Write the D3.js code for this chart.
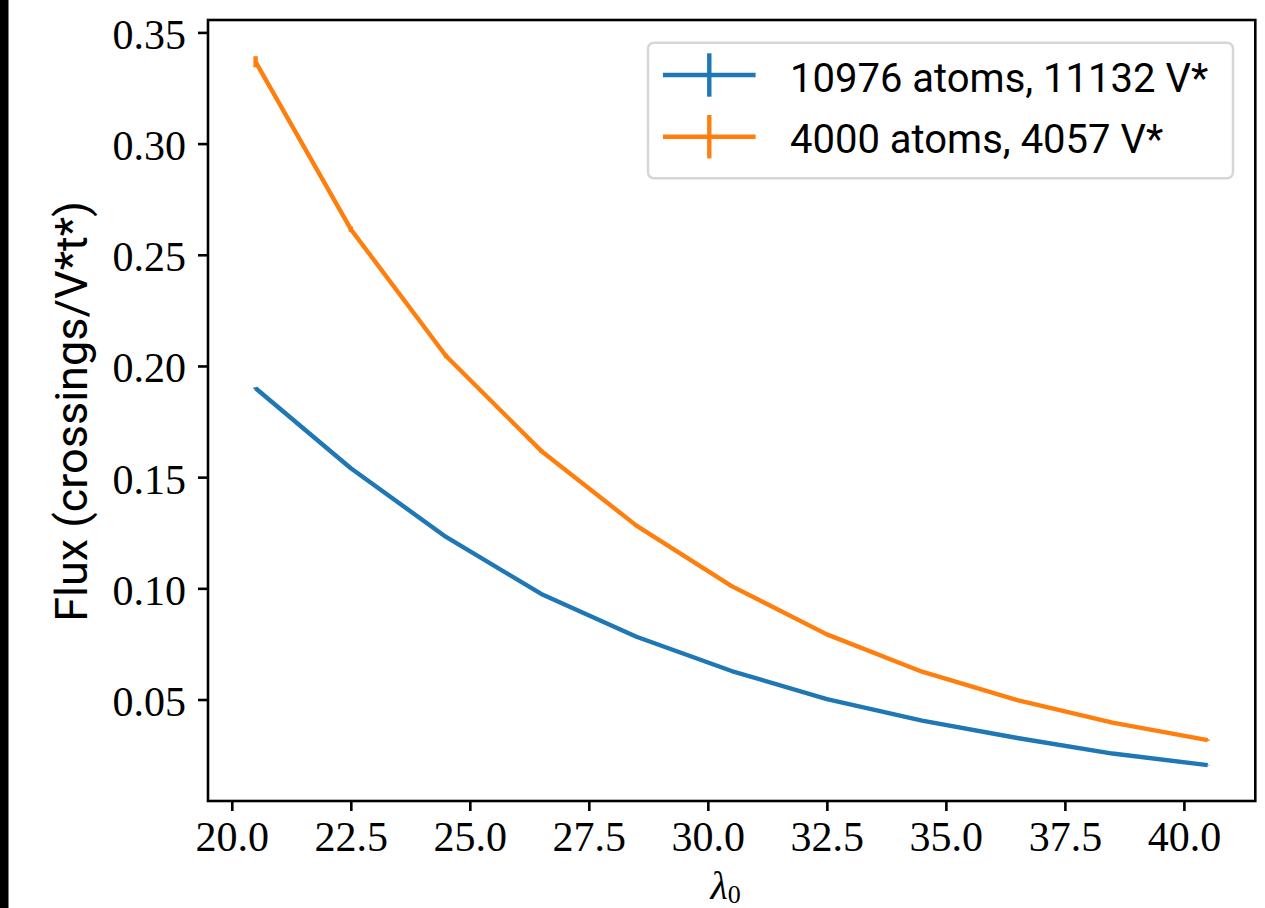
<!DOCTYPE html>
<html>
<head>
<meta charset="utf-8">
<script src="https://cdn.jsdelivr.net/npm/d3@7"></script>
<style>
  html, body { margin: 0; padding: 0; background: #fff; }
  svg { display: block; }
</style>
</head>
<body>
<div id="chart"></div>
<script>
// Flux vs lambda_0, two system sizes with error bars

const lambdas = [20.5, 22.5, 24.5, 26.5, 28.5, 30.5, 32.5, 34.5, 36.5, 38.5, 40.5];

const fluxLarge = [0.190, 0.154, 0.1231, 0.0975, 0.0782, 0.0628, 0.0502, 0.0405, 0.0327, 0.0257, 0.0205];
const errLarge  = [0.0004, 0.0003, 0.0003, 0.0002, 0.0002, 0.0002, 0.0002, 0.0001, 0.0001, 0.0001, 0.0001];

const fluxSmall = [0.3368, 0.2615, 0.2045, 0.1618, 0.1282, 0.1010, 0.0793, 0.0625, 0.0497, 0.0396, 0.0317];
const errSmall  = [0.0025, 0.0012, 0.0010, 0.0008, 0.0007, 0.0006, 0.0005, 0.0004, 0.0004, 0.0003, 0.0003];

const seriesNames = ["10976 atoms, 11132 V*", "4000 atoms, 4057 V*"];
const xTicks = [20.0, 22.5, 25.0, 27.5, 30.0, 32.5, 35.0, 37.5, 40.0];
const yTicks = [0.05, 0.10, 0.15, 0.20, 0.25, 0.30, 0.35];

const W = 1265, H = 908;
const margin = { top: 20, right: 9.7, bottom: 107, left: 208 };
const width = W - margin.left - margin.right;
const height = H - margin.top - margin.bottom;

const svg = d3.select("#chart")
  .append("svg")
  .attr("width", W)
  .attr("height", H);

// black strip on the left edge
svg.append("rect")
  .attr("x", 0).attr("y", 0)
  .attr("width", 8.5).attr("height", H)
  .attr("fill", "#000");

const g = svg.append("g")
  .attr("transform", `translate(${margin.left},${margin.top})`);

const x = d3.scaleLinear().domain([19.5, 41.5]).range([0, width]);
const y = d3.scaleLinear().domain([0.00436, 0.35558]).range([height, 0]);

const color = ["#1f77b4", "#ff7f0e"];
const series = [
  { name: seriesNames[0], values: fluxLarge, err: errLarge, color: color[0] },
  { name: seriesNames[1], values: fluxSmall, err: errSmall, color: color[1] }
];

const tickFont = "'Liberation Serif', 'DejaVu Serif', serif";
const sansFont = "Roboto, 'DejaVu Sans', sans-serif";

// axes
const xAxis = g.append("g")
  .attr("transform", `translate(0,${height})`)
  .call(d3.axisBottom(x).tickValues(xTicks).tickFormat(d3.format(".1f")).tickSize(10).tickPadding(8));

const yAxis = g.append("g")
  .call(d3.axisLeft(y).tickValues(yTicks).tickFormat(d3.format(".2f")).tickSize(10).tickPadding(12));

[xAxis, yAxis].forEach(a => {
  a.select(".domain").remove();
  a.selectAll(".tick line").attr("stroke", "#000").attr("stroke-width", 2.6);
  a.selectAll(".tick text")
    .attr("fill", "#000")
    .style("font-family", tickFont)
    .style("font-size", "42px");
});
yAxis.selectAll(".tick text").attr("dy", "0.38em");
xAxis.selectAll(".tick text").attr("dy", "0.76em");

// lines and error bars
const line = d3.line()
  .x((d, i) => x(lambdas[i]))
  .y(d => y(d));

series.forEach(s => {
  g.append("path")
    .datum(s.values)
    .attr("fill", "none")
    .attr("stroke", s.color)
    .attr("stroke-width", 4.4)
    .attr("stroke-linejoin", "round")
    .attr("d", line);

  g.selectAll(null)
    .data(s.values)
    .enter()
    .append("line")
    .attr("x1", (d, i) => x(lambdas[i]))
    .attr("x2", (d, i) => x(lambdas[i]))
    .attr("y1", (d, i) => y(d - s.err[i]))
    .attr("y2", (d, i) => y(d + s.err[i]))
    .attr("stroke", s.color)
    .attr("stroke-width", 4.4);
});

// frame
g.append("rect")
  .attr("x", 0).attr("y", 0)
  .attr("width", width).attr("height", height)
  .attr("fill", "none")
  .attr("stroke", "#000")
  .attr("stroke-width", 2.6);

// axis labels
g.append("text")
  .attr("x", width / 2 - 6)
  .attr("y", height + 98)
  .attr("text-anchor", "middle")
  .style("font-family", tickFont)
  .style("font-size", "40px")
  .style("font-style", "italic")
  .text("λ")
  .append("tspan")
  .attr("dy", 4)
  .style("font-style", "normal")
  .style("font-size", "26px")
  .text("0");

g.append("text")
  .attr("transform", "rotate(-90)")
  .attr("x", -height / 2 - 1)
  .attr("y", -121)
  .attr("text-anchor", "middle")
  .style("font-family", sansFont)
  .style("font-size", "45px")
  .attr("fill", "#000")
  .text("Flux (crossings/V*t*)");

// legend
const legend = g.append("g")
  .attr("transform", `translate(${648 - margin.left},${42.7 - margin.top})`);

legend.append("rect")
  .attr("width", 585)
  .attr("height", 135.6)
  .attr("rx", 6)
  .attr("fill", "#fff")
  .attr("fill-opacity", 0.8)
  .attr("stroke", "#d6d6d6")
  .attr("stroke-width", 2.5);

series.forEach((s, i) => {
  const row = legend.append("g")
    .attr("transform", `translate(0,${32.3 + i * 61.7})`);
  row.append("line")
    .attr("x1", 15).attr("x2", 107.6)
    .attr("y1", 0).attr("y2", 0)
    .attr("stroke", s.color).attr("stroke-width", 4.4);
  row.append("line")
    .attr("x1", 61.3).attr("x2", 61.3)
    .attr("y1", -21.7).attr("y2", 21.7)
    .attr("stroke", s.color).attr("stroke-width", 4.4);
  row.append("text")
    .attr("x", 142)
    .attr("y", 16.7)
    .style("font-family", sansFont)
    .style("font-size", "40px")
    .attr("fill", "#000")
    .text(s.name);
});
</script>
</body>
</html>
